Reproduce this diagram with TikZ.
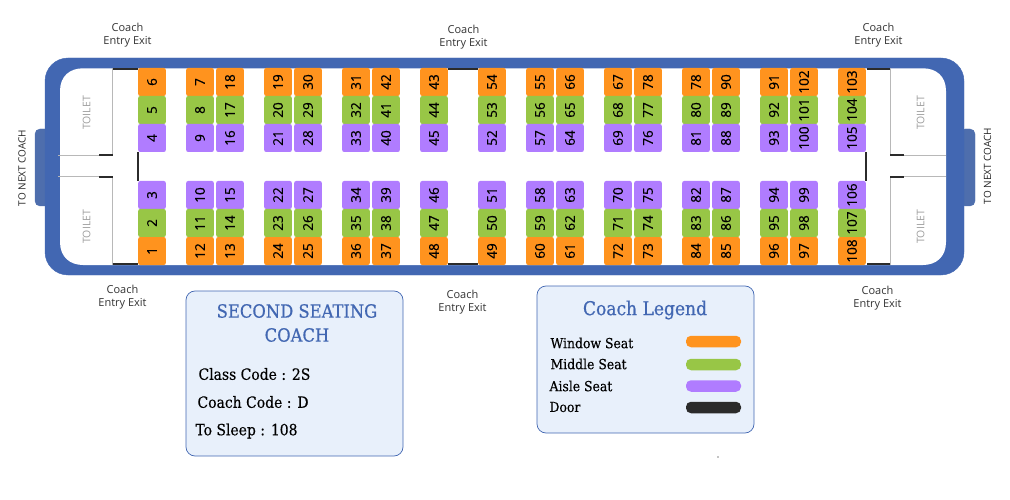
\documentclass[tikz,border=0pt]{standalone}
\usepackage{fontspec}
\setmainfont{Open Sans}
\newfontfamily\seatfont[FakeBold=0.5]{Open Sans}
\newfontfamily\slabfont{DejaVu Serif Condensed}
\newfontfamily\slabheavy[FakeBold=0.6]{DejaVu Serif Condensed}
\newfontfamily\slabmed[FakeBold=0.25]{DejaVu Serif Condensed}
\definecolor{coachblue}{HTML}{4267B2}
\definecolor{hookblue}{HTML}{4E6EAD}
\definecolor{winorange}{HTML}{FF931E}
\definecolor{midgreen}{HTML}{98C646}
\definecolor{aislepurple}{HTML}{B07CFF}
\definecolor{doorblack}{HTML}{2B2B2B}
\definecolor{panelblue}{HTML}{E8F0FB}
\tikzset{
  seat/.style={minimum width=28pt,minimum height=27.6pt,inner sep=0pt,rounded corners=2pt,rotate=90,font=\seatfont\fontsize{13.5}{13.5}\selectfont,text=black},
  winseat/.style={seat,fill=winorange},
  midseat/.style={seat,fill=midgreen},
  aisleseat/.style={seat,fill=aislepurple},
  entrylabel/.style={align=center,font=\fontsize{11}{13}\selectfont,text=black!80},
  toilet/.style={rotate=90,font=\fontsize{10.5}{12}\selectfont,text=black!38},
  nextcoach/.style={rotate=90,font=\fontsize{10}{12}\selectfont,text=black!85},
  door/.style={doorblack,line width=2pt},
  wall/.style={black!28,line width=0.7pt},
  panel/.style={draw=coachblue,fill=panelblue,line width=0.7pt,rounded corners=9pt},
  paneltitle/.style={font=\slabheavy\fontsize{18.2}{24}\selectfont,text=coachblue,align=center},
  paneltext/.style={anchor=west,font=\slabmed\fontsize{15.5}{16}\selectfont,text=black},
  legendtext/.style={anchor=west,font=\slabmed\fontsize{13.8}{14}\selectfont,text=black},
  pill/.style={minimum width=55pt,minimum height=11.5pt,inner sep=0pt,rounded corners=5pt}
}
\begin{document}
\begin{tikzpicture}[x=1pt,y=-1pt]
\useasboundingbox (0,0) rectangle (1010,500);

%couplers and body
\draw[fill=hookblue,hookblue,rounded corners=5pt] (35,129) rectangle (50,206);
\draw[fill=hookblue,hookblue,rounded corners=5pt] (960,129) rectangle (975,206);
\draw[fill=coachblue,coachblue,rounded corners=23pt] (45,58) rectangle (964,275);
\fill[white] (60,91) .. controls (60,76) and (70,68.3) .. (83,68.3)
  -- (923,68.3) .. controls (936,68.3) and (946,76) .. (946,91)
  -- (946,242) .. controls (946,257) and (936,265) .. (923,265)
  -- (83,265) .. controls (70,265) and (60,257) .. (60,242) -- cycle;

%walls
\draw[wall] (112.7,68)--(112.7,155.7)--(58,155.7);
\draw[wall] (112.7,265)--(112.7,176)--(58,176);
\draw[wall] (890.3,68)--(890.3,155.7)--(946,155.7);
\draw[wall] (890.3,265)--(890.3,176)--(946,176);

%doors
\draw[door] (112.7,69.3)--(137.5,69.3);
\draw[door] (112.7,264)--(137.5,264);
\draw[door] (447.7,69.3)--(478,69.3);
\draw[door] (447.7,264)--(478,264);
\draw[door] (867,69.3)--(890.3,69.3);
\draw[door] (867,264)--(890.3,264);
\draw[door] (99.3,155)--(112.7,155);
\draw[door] (99.3,177.5)--(112.7,177.5);
\draw[door] (890.3,155)--(904,155);
\draw[door] (890.3,177.5)--(904,177.5);
\draw[door] (137.7,152.3)--(137.7,181);
\draw[door] (865.7,152.3)--(865.7,181);

\node[winseat] (s6) at (152,82) {6};
\node[midseat] (s5) at (152,110) {5};
\node[aisleseat] (s4) at (152,138) {4};
\node[aisleseat] (s3) at (152,195) {3};
\node[midseat] (s2) at (152,223) {2};
\node[winseat] (s1) at (152,251) {1};

\node[winseat] (s7) at (200,82) {7};
\node[midseat] (s8) at (200,110) {8};
\node[aisleseat] (s9) at (200,138) {9};
\node[aisleseat] (s10) at (200,195) {10};
\node[midseat] (s11) at (200,223) {11};
\node[winseat] (s12) at (200,251) {12};

\node[winseat] (s18) at (230,82) {18};
\node[midseat] (s17) at (230,110) {17};
\node[aisleseat] (s16) at (230,138) {16};
\node[aisleseat] (s15) at (230,195) {15};
\node[midseat] (s14) at (230,223) {14};
\node[winseat] (s13) at (230,251) {13};

\node[winseat] (s19) at (278,82) {19};
\node[midseat] (s20) at (278,110) {20};
\node[aisleseat] (s21) at (278,138) {21};
\node[aisleseat] (s22) at (278,195) {22};
\node[midseat] (s23) at (278,223) {23};
\node[winseat] (s24) at (278,251) {24};

\node[winseat] (s30) at (308,82) {30};
\node[midseat] (s29) at (308,110) {29};
\node[aisleseat] (s28) at (308,138) {28};
\node[aisleseat] (s27) at (308,195) {27};
\node[midseat] (s26) at (308,223) {26};
\node[winseat] (s25) at (308,251) {25};

\node[winseat] (s31) at (356,82) {31};
\node[midseat] (s32) at (356,110) {32};
\node[aisleseat] (s33) at (356,138) {33};
\node[aisleseat] (s34) at (356,195) {34};
\node[midseat] (s35) at (356,223) {35};
\node[winseat] (s36) at (356,251) {36};

\node[winseat] (s42) at (386,82) {42};
\node[midseat] (s41) at (386,110) {41};
\node[aisleseat] (s40) at (386,138) {40};
\node[aisleseat] (s39) at (386,195) {39};
\node[midseat] (s38) at (386,223) {38};
\node[winseat] (s37) at (386,251) {37};

\node[winseat] (s43) at (434,82) {43};
\node[midseat] (s44) at (434,110) {44};
\node[aisleseat] (s45) at (434,138) {45};
\node[aisleseat] (s46) at (434,195) {46};
\node[midseat] (s47) at (434,223) {47};
\node[winseat] (s48) at (434,251) {48};

\node[winseat] (s54) at (492,82) {54};
\node[midseat] (s53) at (492,110) {53};
\node[aisleseat] (s52) at (492,138) {52};
\node[aisleseat] (s51) at (492,195) {51};
\node[midseat] (s50) at (492,223) {50};
\node[winseat] (s49) at (492,251) {49};

\node[winseat] (s55) at (540,82) {55};
\node[midseat] (s56) at (540,110) {56};
\node[aisleseat] (s57) at (540,138) {57};
\node[aisleseat] (s58) at (540,195) {58};
\node[midseat] (s59) at (540,223) {59};
\node[winseat] (s60) at (540,251) {60};

\node[winseat] (s66) at (570,82) {66};
\node[midseat] (s65) at (570,110) {65};
\node[aisleseat] (s64) at (570,138) {64};
\node[aisleseat] (s63) at (570,195) {63};
\node[midseat] (s62) at (570,223) {62};
\node[winseat] (s61) at (570,251) {61};

\node[winseat] (s67) at (618,82) {67};
\node[midseat] (s68) at (618,110) {68};
\node[aisleseat] (s69) at (618,138) {69};
\node[aisleseat] (s70) at (618,195) {70};
\node[midseat] (s71) at (618,223) {71};
\node[winseat] (s72) at (618,251) {72};

\node[winseat] (s78) at (648,82) {78};
\node[midseat] (s77) at (648,110) {77};
\node[aisleseat] (s76) at (648,138) {76};
\node[aisleseat] (s75) at (648,195) {75};
\node[midseat] (s74) at (648,223) {74};
\node[winseat] (s73) at (648,251) {73};

\node[winseat] (s79) at (696,82) {78};
\node[midseat] (s80) at (696,110) {80};
\node[aisleseat] (s81) at (696,138) {81};
\node[aisleseat] (s82) at (696,195) {82};
\node[midseat] (s83) at (696,223) {83};
\node[winseat] (s84) at (696,251) {84};

\node[winseat] (s90) at (726,82) {90};
\node[midseat] (s89) at (726,110) {89};
\node[aisleseat] (s88) at (726,138) {88};
\node[aisleseat] (s87) at (726,195) {87};
\node[midseat] (s86) at (726,223) {86};
\node[winseat] (s85) at (726,251) {85};

\node[winseat] (s91) at (774,82) {91};
\node[midseat] (s92) at (774,110) {92};
\node[aisleseat] (s93) at (774,138) {93};
\node[aisleseat] (s94) at (774,195) {94};
\node[midseat] (s95) at (774,223) {95};
\node[winseat] (s96) at (774,251) {96};

\node[winseat] (s102) at (804,82) {102};
\node[midseat] (s101) at (804,110) {101};
\node[aisleseat] (s100) at (804,138) {100};
\node[aisleseat] (s99) at (804,195) {99};
\node[midseat] (s98) at (804,223) {98};
\node[winseat] (s97) at (804,251) {97};

\node[winseat] (s103) at (852,82) {103};
\node[midseat] (s104) at (852,110) {104};
\node[aisleseat] (s105) at (852,138) {105};
\node[aisleseat] (s106) at (852,195) {106};
\node[midseat] (s107) at (852,223) {107};
\node[winseat] (s108) at (852,251) {108};

\node[entrylabel] (entry1) at (127.5,35) {Coach\\Entry Exit};
\node[entrylabel] (entry2) at (463.5,37) {Coach\\Entry Exit};
\node[entrylabel] (entry3) at (878.5,35) {Coach\\Entry Exit};
\node[entrylabel] (entry4) at (122.5,297.5) {Coach\\Entry Exit};
\node[entrylabel] (entry5) at (462.5,302.5) {Coach\\Entry Exit};
\node[entrylabel] (entry6) at (877.5,298.5) {Coach\\Entry Exit};

\node[toilet] (toilet1) at (86.7,113) {TOILET};
\node[toilet] (toilet2) at (86.7,226.7) {TOILET};
\node[toilet] (toilet3) at (920.7,113) {TOILET};
\node[toilet] (toilet4) at (920.7,226.7) {TOILET};
\node[nextcoach] (next1) at (22,168) {TO NEXT COACH};
\node[nextcoach] (next2) at (987.5,166) {TO NEXT COACH};

%class panel
\draw[panel] (186,291) rectangle (403,456);
\node[paneltitle] (classtitle) at (297,323) {SECOND SEATING\\COACH};
\node[paneltext] (classcode) at (195,374) {Class Code : 2S};
\node[paneltext] (coachcode) at (194,402) {Coach Code : D};
\node[paneltext] (tosleep) at (192,431) {To Sleep : 108};

%legend panel
\draw[panel] (537,286) rectangle (754,433);
\node[paneltitle,font=\slabheavy\fontsize{19}{24}\selectfont] (legendtitle) at (645,310) {Coach Legend};
\node[legendtext] (legwin) at (547,343) {Window Seat};
\node[legendtext] (legmid) at (547,364) {Middle Seat};
\node[legendtext] (legaisle) at (546,386) {Aisle Seat};
\node[legendtext] (legdoor) at (546,407) {Door};
\node[pill,fill=winorange] (pillwin) at (713.5,341.5) {};
\node[pill,fill=midgreen] (pillmid) at (713.5,364.5) {};
\node[pill,fill=aislepurple] (pillaisle) at (713.5,386) {};
\node[pill,fill=doorblack] (pilldoor) at (713.5,407.5) {};

\fill[black] (718,457) circle (0.7pt);
\end{tikzpicture}
\end{document}
